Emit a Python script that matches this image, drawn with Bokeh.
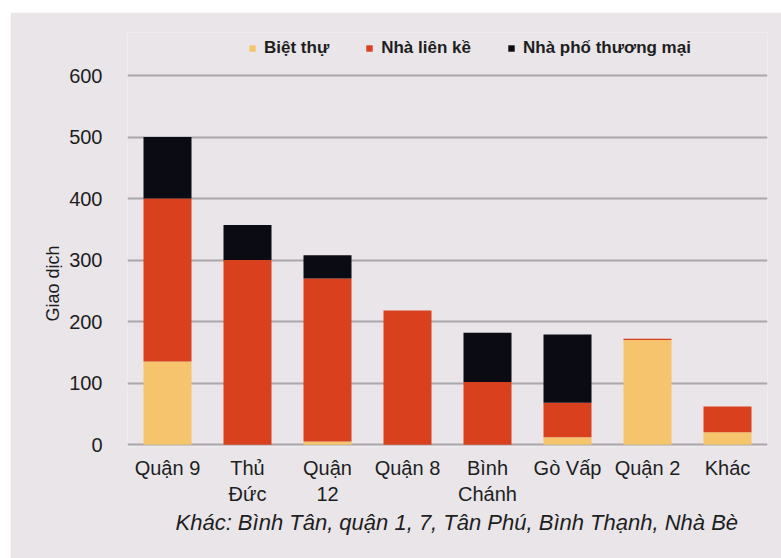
from bokeh.plotting import figure
from bokeh.models import ColumnDataSource, FactorRange, FixedTicker, Legend, LegendItem, Range1d, Title
from bokeh.embed import file_html
from bokeh.resources import INLINE

# Transactions by district and housing type
districts = ["Quận 9", "Thủ\nĐức", "Quận\n12", "Quận 8", "Bình\nChánh", "Gò Vấp", "Quận 2", "Khác"]
biet_thu = [135, 0, 5, 0, 0, 12, 170, 20]
nha_lien_ke = [265, 300, 265, 218, 102, 56, 2, 42]
nha_pho_thuong_mai = [100, 57, 38, 0, 80, 111, 0, 0]

series_names = ["Biệt thự", "Nhà liên kề", "Nhà phố thương mại"]
series_colors = ["#f5c46c", "#d8401e", "#0b0b14"]
y_ticks = [0, 100, 200, 300, 400, 500, 600]

y_title = "Giao dịch"
footnote = "Khác: Bình Tân, quận 1, 7, Tân Phú, Bình Thạnh, Nhà Bè"

FONT = "Liberation Sans"
PANEL = "#e9e5e9"
INK = "#1e1e1e"

source = ColumnDataSource(data=dict(
    district=districts,
    bt=biet_thu,
    lk=nha_lien_ke,
    tm=nha_pho_thuong_mai,
))

# the frame reaches above 600 so the legend sits inside it
p = figure(
    x_range=FactorRange(factors=districts, range_padding=0),
    y_range=Range1d(-3, 670),
    width=771, height=546,
    output_backend="svg", toolbar_location=None,
    min_border_left=117, min_border_right=14,
    min_border_top=20, min_border_bottom=112,
)
p.margin = (12, 0, 0, 10)
p.background_fill_color = PANEL
p.border_fill_color = PANEL
p.outline_line_color = None

renderers = p.vbar_stack(
    ["bt", "lk", "tm"], x="district", width=0.6, source=source,
    color=series_colors, line_color=None,
)

# horizontal grid only
p.xgrid.grid_line_color = None
p.ygrid.ticker = FixedTicker(ticks=y_ticks)
p.ygrid.grid_line_color = "#a9a7a9"
p.ygrid.grid_line_width = 2

p.yaxis.ticker = FixedTicker(ticks=y_ticks)
for ax in (p.xaxis[0], p.yaxis[0]):
    ax.axis_line_color = None
    ax.major_tick_line_color = None
    ax.minor_tick_line_color = None
    ax.major_label_text_font = FONT
    ax.major_label_text_font_size = "20px"
    ax.major_label_text_color = INK
p.yaxis.major_label_standoff = 19
p.xaxis.major_label_standoff = 4

legend = Legend(
    items=[LegendItem(label=n, renderers=[r]) for n, r in zip(series_names, renderers)],
    orientation="horizontal",
    location=(121, 388),
    padding=0, margin=0, spacing=36,
    glyph_width=8, glyph_height=8, label_standoff=8, label_height=14,
    label_text_font=FONT, label_text_font_size="17px", label_text_font_style="bold",
    label_text_color=INK,
    background_fill_alpha=0, border_line_color=None,
)
p.add_layout(legend, "center")

p.add_layout(Title(
    text=y_title, align="left", offset=125, standoff=8,
    text_font=FONT, text_font_size="18px", text_font_style="normal",
    text_color=INK,
), "left")

p.add_layout(Title(
    text=footnote, align="left", offset=48, standoff=0,
    text_font=FONT, text_font_size="22px", text_font_style="italic",
    text_color=INK,
), "below")

open("out.html", "w").write(file_html(p, INLINE))
